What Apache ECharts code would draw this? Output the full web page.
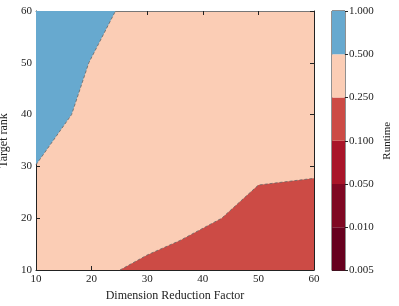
<!DOCTYPE html>
<html><head><meta charset="utf-8">
<script src="https://cdn.jsdelivr.net/npm/echarts@6/dist/echarts.min.js"></script>
<style>html,body{margin:0;padding:0;background:#fff}#c{width:399px;height:306px}</style>
</head><body><div id="c"></div>
<script>
// Contour boundaries [Dimension Reduction Factor, Target rank]
const blueBoundary = [[10,30.3],[16.4,40],[19.5,50],[24.3,60]];   // 0.500 level
const redBoundary = [[25.1,10],[30,12.9],[35.9,15.7],[43.4,20],[50,26.4],[60,27.7]]; // 0.250 level
const levelLabels = ['0.005','0.010','0.050','0.100','0.250','0.500','1.000'];
const levelColors = ['#67001f','#7f0823','#a91529','#cc4b45','#fbcdb5','#67a9cf'];
const xTicks = [10,20,30,40,50,60];
const yTicks = [10,20,30,40,50,60];

const FONT = 'Liberation Serif';
const chart = echarts.init(document.getElementById('c'), null, {renderer:'canvas'});
const tickStyle = {show:true, inside:true, length:4, lineStyle:{color:'#222', width:1}};
const cbSeries = levelColors.map((c,i)=>({
  type:'bar', stack:'cb', xAxisIndex:2, yAxisIndex:2, data:[1], barWidth:'100%',
  itemStyle:{color:c}, silent:true
}));
chart.setOption({
  animation:false,
  textStyle:{fontFamily:FONT},
  grid:[
    {left:36, right:85, top:11, bottom:36, show:true, backgroundColor:levelColors[4], borderWidth:0, containLabel:false, outerBoundsMode:'none'},
    {left:36, right:85, top:11, bottom:36, show:false, containLabel:false, outerBoundsMode:'none'},
    {left:332, width:13, top:11, bottom:35.5, show:true, borderColor:'#222', borderWidth:1, backgroundColor:'transparent', containLabel:false, outerBoundsMode:'none'}
  ],
  xAxis:[
    {type:'value', gridIndex:0, min:10, max:60, interval:10, position:'bottom',
     name:'Dimension Reduction Factor', nameLocation:'middle', nameGap:20,
     nameTextStyle:{fontFamily:FONT, fontSize:12, color:'#222'},
     axisLine:{show:true, onZero:false, lineStyle:{color:'#222', width:1}},
     axisTick:tickStyle, splitLine:{show:false},
     axisLabel:{fontFamily:FONT, fontSize:11, color:'#222', margin:4}},
    {type:'value', gridIndex:1, min:10, max:60, interval:10, position:'top',
     axisLine:{show:true, onZero:false, lineStyle:{color:'#777', width:1}},
     axisTick:tickStyle, splitLine:{show:false}, axisLabel:{show:false}},
    {type:'category', gridIndex:2, data:['cb'], show:false}
  ],
  yAxis:[
    {type:'value', gridIndex:0, min:10, max:60, interval:10, position:'left',
     name:'Target rank', nameLocation:'middle', nameGap:23,
     nameTextStyle:{fontFamily:FONT, fontSize:12, color:'#222'},
     axisLine:{show:true, onZero:false, lineStyle:{color:'#222', width:1}},
     axisTick:tickStyle, splitLine:{show:false},
     axisLabel:{fontFamily:FONT, fontSize:11, color:'#222', margin:4}},
    {type:'value', gridIndex:1, min:10, max:60, interval:10, position:'right',
     axisLine:{show:true, onZero:false, lineStyle:{color:'#222', width:1}},
     axisTick:tickStyle, splitLine:{show:false}, axisLabel:{show:false}},
    {type:'value', gridIndex:2, min:0, max:6, interval:1, position:'right',
     name:'Runtime', nameLocation:'middle', nameGap:37, nameRotate:90,
     nameTextStyle:{fontFamily:FONT, fontSize:11, color:'#222'},
     axisLine:{show:false}, splitLine:{show:false},
     axisTick:{show:true, inside:false, length:3, lineStyle:{color:'#222'}},
     axisLabel:{fontFamily:FONT, fontSize:11, color:'#222', margin:4,
       formatter:v=>levelLabels[Math.round(v)]}}
  ],
  series:[
    {type:'line', xAxisIndex:0, yAxisIndex:0, data:blueBoundary, symbol:'none', silent:true,
     lineStyle:{color:'#666', width:0.8, type:[3,2]},
     areaStyle:{color:levelColors[5], opacity:1, origin:'end'}, z:3},
    {type:'line', xAxisIndex:0, yAxisIndex:0, data:redBoundary, symbol:'none', silent:true,
     lineStyle:{color:'#666', width:0.8, type:[3,2]},
     areaStyle:{color:levelColors[3], opacity:1, origin:'start'}, z:3},
    ...cbSeries
  ]
});
</script></body></html>
